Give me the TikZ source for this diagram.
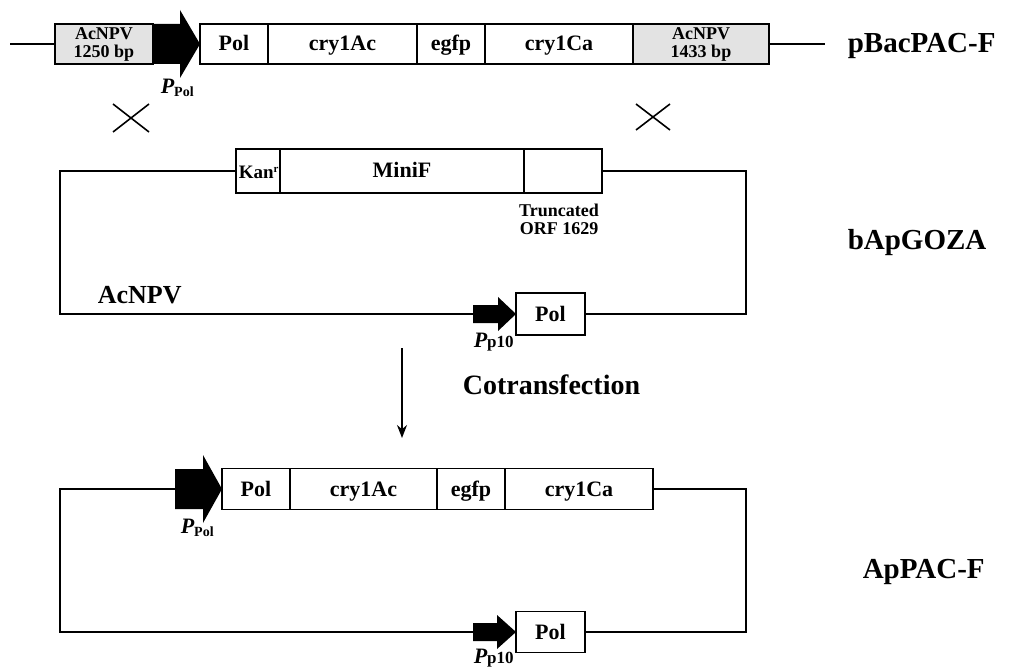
\documentclass[tikz,border=0pt]{standalone}
\usepackage{fontspec}
\setmainfont{Liberation Serif}
\usetikzlibrary{arrows.meta}
\newcommand{\myfs}[1]{\fontsize{#1}{#1}\selectfont}
\begin{document}
\begin{tikzpicture}[x=1pt,y=-1pt,line width=1.6pt,
  seg/.style={draw,line width=1.6pt,minimum height=40pt,inner sep=0pt,font=\bfseries\myfs{22},text height=16pt,text depth=2pt},
  gseg/.style={draw,line width=1.6pt,minimum height=40pt,inner sep=0pt,fill=gray!22,font=\bfseries\myfs{18},align=center},
  wire/.style={line width=1.6pt},
  prom/.style={fill=black},
  big/.style={font=\bfseries\myfs{29},anchor=base west,inner sep=0pt},
  plbl/.style={anchor=base west,inner sep=0pt,font=\bfseries},
  xmark/.style={line width=1.6pt},
  flow/.style={line width=1.4pt,-{Stealth[length=13pt,width=10pt]}}]
\useasboundingbox (0,0) rectangle (1017,668);

% ---------- pBacPAC-F ----------
\node[gseg,minimum width=98pt] (ac1) at (104,44) {AcNPV\\1250 bp};
\node[seg,minimum width=68pt] (pol1) at (234,44) {Pol};
\node[seg,minimum width=149pt] (c1ac1) at (342.5,44) {cry1Ac};
\node[seg,minimum width=68pt] (egfp1) at (451,44) {egfp};
\node[seg,minimum width=148pt] (c1ca1) at (559,44) {cry1Ca};
\node[gseg,minimum width=136pt] (ac2) at (701,44) {AcNPV\\1433 bp};
\fill[prom] (153,24) -- (180,24) -- (180,10) -- (200,44) -- (180,78) -- (180,64) -- (153,64) -- cycle;
\coordinate (tl) at (10,44);
\coordinate (tr) at (825,44);
\draw[wire] (tl) -- (ac1.west);
\draw[wire] (ac2.east) -- (tr);
\node[big] (lblA) at (847,53) {pBacPAC-F};
\node[plbl] (pp1) at (160,94) {\myfs{22}\itshape P\myfs{14}\upshape\raisebox{-3pt}{Pol}};

% crossover marks
\draw[xmark] (113,104) -- (149,132) (113,132) -- (149,104);
\draw[xmark] (636,104) -- (670,130) (636,130) -- (670,104);

% ---------- bApGOZA ----------
\node[seg,minimum width=44pt,minimum height=44pt] (kan) at (258,171) {};
\node[plbl,font=\bfseries\myfs{19}] (kanl) at (238,179) {Kan\textsuperscript{\myfs{11}r}};
\node[seg,minimum width=244pt,minimum height=44pt] (minif) at (402,171) {MiniF};
\node[seg,minimum width=78pt,minimum height=44pt] (trunc) at (563,171) {};
\node[font=\bfseries\myfs{18},align=center,inner sep=0pt] (truncl) at (559,219) {Truncated\\ORF 1629};
\node[seg,minimum width=69pt,minimum height=42pt] (pol2) at (550.5,314) {Pol};
\fill[prom] (473,305) -- (498,305) -- (498,297) -- (516,314) -- (498,331) -- (498,323) -- (473,323) -- cycle;
\coordinate (p10a) at (473,314);
\coordinate (mL) at (60,314);
\coordinate (mR) at (746,171);
\draw[wire] (kan.west) -| (mL) -- (p10a);
\draw[wire] (pol2.east) -| (mR) -- (trunc.east);
\node[big,font=\bfseries\myfs{26}] (acl) at (97,304) {AcNPV};
\node[plbl] (pp2) at (473,347) {\myfs{22}\itshape P\myfs{17}\upshape p10};
\node[big] (lblB) at (847,250) {bApGOZA};

% ---------- cotransfection ----------
\coordinate (ds) at (402,348);
\coordinate (de) at (402,438);
\draw[flow] (ds) -- (de);
\node[big,font=\bfseries\myfs{28}] (cot) at (462,394) {Cotransfection};

% ---------- ApPAC-F ----------
\node[seg,minimum width=68pt,minimum height=41pt] (pol3) at (256,489) {Pol};
\node[seg,minimum width=147pt,minimum height=41pt] (c1ac3) at (363.5,489) {cry1Ac};
\node[seg,minimum width=68pt,minimum height=41pt] (egfp3) at (471,489) {egfp};
\node[seg,minimum width=148pt,minimum height=41pt] (c1ca3) at (579,489) {cry1Ca};
\fill[prom] (175,469) -- (203,469) -- (203,455) -- (222,489) -- (203,523) -- (203,509) -- (175,509) -- cycle;
\node[seg,minimum width=69pt,minimum height=41pt] (pol4) at (550.5,632) {Pol};
\fill[prom] (473,623) -- (497,623) -- (497,615) -- (516,632) -- (497,649) -- (497,641) -- (473,641) -- cycle;
\coordinate (ppb) at (175,489);
\coordinate (p10b) at (473,632);
\coordinate (bL) at (60,489);
\coordinate (bR) at (746,632);
\draw[wire] (c1ca3.east) -| (bR) -- (pol4.east);
\draw[wire] (p10b) -| (bL) -- (ppb);
\node[plbl] (pp3) at (180,533) {\myfs{22}\itshape P\myfs{14}\upshape\raisebox{-3pt}{Pol}};
\node[plbl] (pp4) at (473,663) {\myfs{22}\itshape P\myfs{17}\upshape p10};
\node[big] (lblC) at (862,578) {ApPAC-F};
\end{tikzpicture}
\end{document}
